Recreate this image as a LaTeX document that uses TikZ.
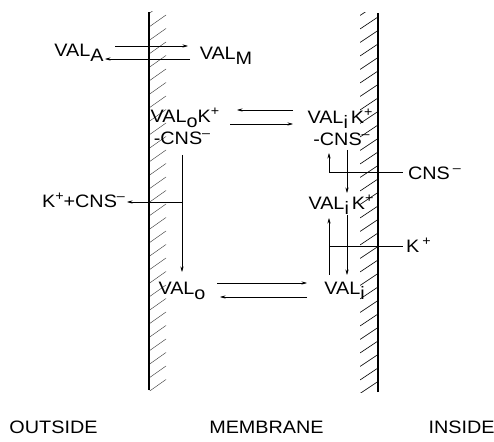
\documentclass[tikz,border=0pt]{standalone}
\usepackage{fontspec}
\setmainfont{Liberation Sans}[FakeStretch=1.1]
\usetikzlibrary{arrows.meta}
\newcommand{\lowtxt}[1]{\raisebox{-0.27em}{#1}}
\newcommand{\hightxt}[1]{\raisebox{0.42em}{\fontsize{13}{13}\selectfont #1}}
\tikzset{
  lbl/.style={anchor=base, inner sep=0pt, font=\fontsize{18}{20}\selectfont},
  rx/.style={line width=0.6pt, -{Stealth[length=5.5pt,width=3.2pt]}},
  ln/.style={line width=0.6pt},
  wall/.style={line width=1.3pt},
  hatch/.style={line width=0.45pt}
}
\begin{document}
\begin{tikzpicture}[x=1pt,y=1pt]
\useasboundingbox (0,0) rectangle (494,441);
% membrane walls
\begin{scope}
\clip (149,51) rectangle (167,429);
\foreach \y in {36,49.5,...,430} \draw[hatch,black!75] (149,\y) -- (166,\y+12);
\end{scope}
\begin{scope}
\clip (360,49) rectangle (378,428);
\foreach \y in {34,47.5,...,430} \draw[hatch,line width=0.6pt] (360,\y) -- (378,\y+12);
\end{scope}
\draw[wall] (149,51) -- (149,429);
\draw[wall] (378,49) -- (378,428);
% species
\node[lbl] (valA) at (79,384) {VAL\lowtxt{A}};
\node[lbl] (valM) at (226,381) {VAL\lowtxt{M}};
\node[lbl] (valoK) at (185,318) {VAL\lowtxt{o}K\hightxt{+}};
\node[lbl] (valoC) at (182,296) {-CNS\hightxt{--}};
\node[lbl] (valiK) at (340,317) {VAL\lowtxt{i}\,K\hightxt{+}};
\node[lbl] (valiC) at (341.5,295) {-CNS\hightxt{--}};
\node[lbl] (kcns) at (83.5,233) {K\hightxt{+}+CNS\hightxt{--}};
\node[lbl] (cnsIn) at (434.5,261) {CNS\,\hightxt{--}};
\node[lbl] (valiKm) at (341,231) {VAL\lowtxt{i}\,K\hightxt{+}};
\node[lbl] (kIn) at (418.5,188) {K\,\hightxt{+}};
\node[lbl] (valo) at (182,146) {VAL\lowtxt{o}};
\node[lbl] (vali) at (344.5,146) {VAL\lowtxt{i}};
\node[lbl] (outside) at (53.5,8) {OUTSIDE};
\node[lbl] (membrane) at (266.5,8) {MEMBRANE};
\node[lbl] (inside) at (461.5,8) {INSIDE};
% junctions
\coordinate (jL) at (182,239);
\coordinate (jC) at (329,269);
\coordinate (jK) at (329,195);
% outside partition
\draw[rx] ([xshift=36pt,yshift=11pt]valA.base) -- ([xshift=-38pt,yshift=14pt]valM.base);
\draw[rx] ([xshift=-36pt,yshift=1pt]valM.base) -- ([xshift=26pt,yshift=-2pt]valA.base);
% carrier complex across membrane
\draw[rx] ([xshift=-47pt,yshift=14pt]valiK.base) -- ([xshift=52pt,yshift=13pt]valoK.base);
\draw[rx] ([xshift=45pt,yshift=-1pt]valoK.base) -- ([xshift=-47pt]valiK.base);
% release at outer face
\draw[rx] ([yshift=-10pt]valoC.base) -- ([yshift=23pt]valo.base);
\draw[rx] (jL) -- ([xshift=43.5pt,yshift=6pt]kcns.base);
% uptake at inner face
\draw[ln] (jC) -- ([xshift=-31.5pt,yshift=8pt]cnsIn.base);
\draw[rx] (jC) -- ([xshift=-12.5pt,yshift=-7pt]valiC.base);
\draw[rx] ([xshift=5.5pt,yshift=-4pt]valiC.base) -- ([xshift=6pt,yshift=17pt]valiKm.base);
\draw[rx] ([xshift=-15.5pt,yshift=20pt]vali.base) -- ([xshift=-12pt,yshift=-8pt]valiKm.base);
\draw[ln] (jK) -- ([xshift=-15.5pt,yshift=7pt]kIn.base);
\draw[rx] ([xshift=6pt,yshift=-5pt]valiKm.base) -- ([xshift=2.5pt,yshift=20pt]vali.base);
% free carrier across membrane
\draw[rx] ([xshift=35pt,yshift=12pt]valo.base) -- ([xshift=-37.5pt,yshift=12pt]vali.base);
\draw[rx] ([xshift=-37.5pt,yshift=-2pt]vali.base) -- ([xshift=38pt,yshift=-2pt]valo.base);
\end{tikzpicture}
\end{document}
